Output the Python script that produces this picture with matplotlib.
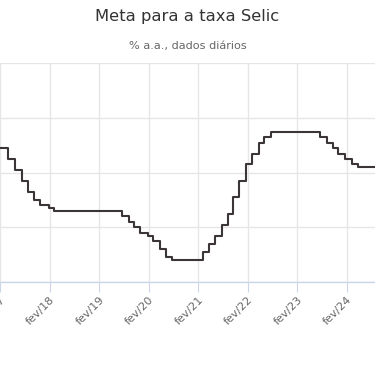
import datetime as dt
import matplotlib
matplotlib.use("Agg")
import matplotlib.pyplot as plt
from matplotlib.transforms import ScaledTranslation

# Selic target changes (effective date, % a.a.)
change_dates = [
    "2017-02-23", "2017-04-13", "2017-06-01", "2017-07-27", "2017-09-07",
    "2017-10-26", "2017-12-07", "2018-02-08", "2018-03-22", "2019-08-01",
    "2019-09-19", "2019-10-31", "2019-12-12", "2020-02-06", "2020-03-19",
    "2020-05-07", "2020-06-18", "2020-08-06", "2021-03-18", "2021-05-06",
    "2021-06-17", "2021-08-05", "2021-09-23", "2021-10-28", "2021-12-09",
    "2022-02-03", "2022-03-17", "2022-05-05", "2022-06-16", "2022-08-04",
    "2023-08-03", "2023-09-21", "2023-11-02", "2023-12-14", "2024-02-01",
    "2024-03-21", "2024-05-09", "2024-09-10",
]
rates = [
    12.25, 11.25, 10.25, 9.25, 8.25,
    7.5, 7.0, 6.75, 6.5, 6.0,
    5.5, 5.0, 4.5, 4.25, 3.75,
    3.0, 2.25, 2.0, 2.75, 3.5,
    4.25, 5.25, 6.25, 7.75, 9.25,
    10.75, 11.75, 12.75, 13.25, 13.75,
    13.25, 12.75, 12.25, 11.75, 11.25,
    10.75, 10.5, 10.5,
]
tick_years = [17, 18, 19, 20, 21, 22, 23, 24]
tick_labels = ["fev/%d" % y for y in tick_years]

dates = [dt.datetime.strptime(d, "%Y-%m-%d") for d in change_dates]
tick_dates = [dt.datetime(2000 + y, 2, 14) for y in tick_years]

W, H = 375, 366
fig = plt.figure(figsize=(W / 100, H / 100), dpi=100)
bottom_px, top_px = 282, 63.3
ax = fig.add_axes([0, (H - bottom_px) / H, 1, (bottom_px - top_px) / H])

ax.step(dates, rates, where="post", color="#3b3537", lw=1.5, zorder=3)

ax.set_xlim(dt.datetime(2017, 2, 24), dt.datetime(2024, 9, 8))
ax.set_ylim(0, 20)
ax.set_yticks([0, 5, 10, 15, 20])
ax.set_xticks(tick_dates)
ax.set_xticklabels(tick_labels, rotation=45, ha="right", va="top",
                   rotation_mode="anchor", fontsize=8, color="#666666")
offset = ScaledTranslation(6 / 72, -6 / 72, fig.dpi_scale_trans)
for lab in ax.get_xticklabels():
    lab.set_transform(lab.get_transform() + offset)

ax.grid(True, color="#e6e6e6", lw=1)
ax.set_axisbelow(True)
for s in ["left", "right", "top"]:
    ax.spines[s].set_visible(False)
ax.spines["bottom"].set_color("#ccd6eb")
ax.spines["bottom"].set_linewidth(1)
ax.tick_params(axis="x", length=7, color="#ccd6eb", pad=2)
ax.tick_params(axis="y", length=0, labelleft=False)

fig.text(0.5, 1 - 17 / H, "Meta para a taxa Selic", ha="center", va="center",
         fontsize=11.8, color="#333333")
fig.text(0.5, 1 - 45.5 / H, "% a.a., dados diários", ha="center", va="center",
         fontsize=8.1, color="#666666")

fig.savefig("out.png", dpi=100)
